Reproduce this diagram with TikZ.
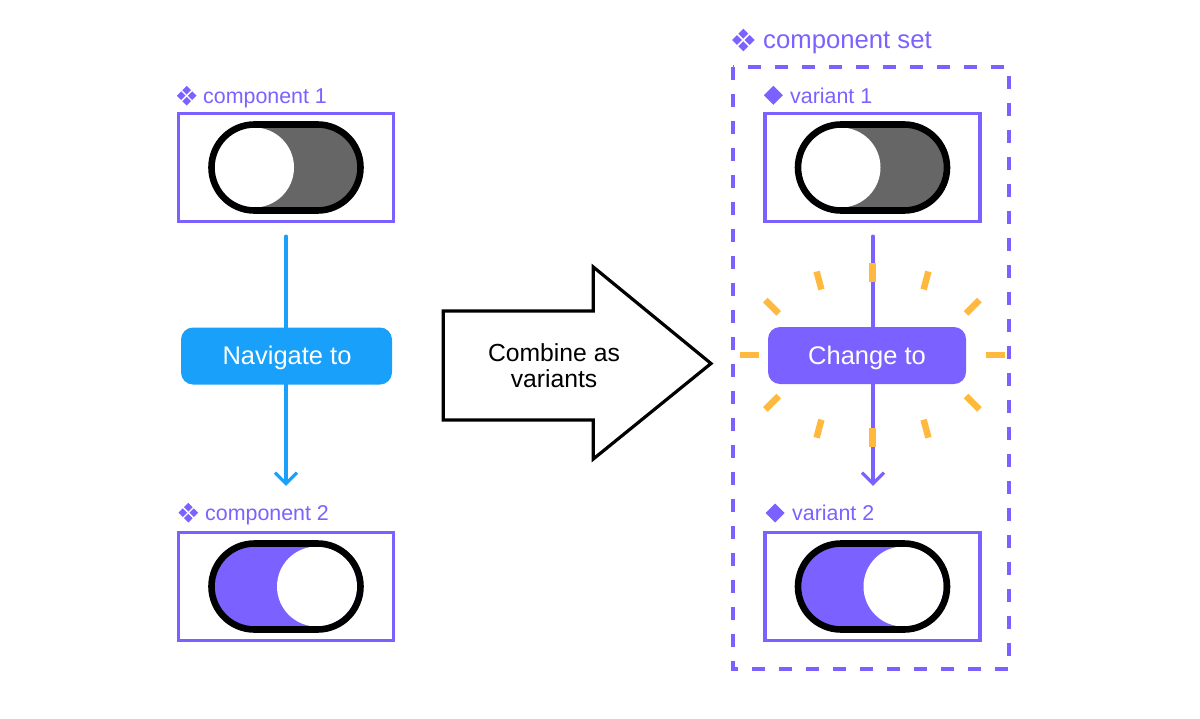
\documentclass[tikz,border=0pt]{standalone}
\usepackage{fontspec}
\setmainfont{Liberation Sans}
\usetikzlibrary{calc}
\usetikzlibrary{arrows.meta}

\definecolor{violet}{HTML}{7B61FF}
\definecolor{skyblue}{HTML}{18A0FB}
\definecolor{amber}{HTML}{FFB93E}
\definecolor{knobgrey}{HTML}{666666}

\tikzset{
    frame/.style={draw=violet, line width=3.2pt, minimum width=215pt, minimum height=108pt, inner sep=0pt},
    caption/.style={text=violet, anchor=base west, inner sep=0pt, font=\fontsize{21.4}{24}\selectfont},
    action/.style={rounded corners=12pt, minimum height=57pt, inner sep=0pt},
    actionlabel/.style={text=white, anchor=base, inner sep=0pt, font=\fontsize{25.5}{28}\selectfont},
    flow/.style={line width=3.2pt, line cap=round, line join=round, -{Straight Barb[length=11pt,width=22pt,line width=3.2pt]}},
    ray/.style={amber, line width=6.5pt},
    toggleoff/.pic={
        \fill[knobgrey] (-31.5,-43) arc (270:90:43) -- (31.5,43) arc (90:-90:43) -- cycle;
        \fill[white] (-32,0) circle (40);
        \draw[black, line width=6.6pt] (-31.5,-43) arc (270:90:43) -- (31.5,43) arc (90:-90:43) -- cycle;
    },
    toggleon/.pic={
        \fill[violet] (-31.5,-43) arc (270:90:43) -- (31.5,43) arc (90:-90:43) -- cycle;
        \fill[white] (31,0) circle (40);
        \draw[black, line width=6.6pt] (-31.5,-43) arc (270:90:43) -- (31.5,43) arc (90:-90:43) -- cycle;
    },
    gem/.pic={
        \fill[violet] (-9.5,0) -- (0,9.5) -- (9.5,0) -- (0,-9.5) -- cycle;
    },
    gems/.pic={
        \foreach \dx/\dy in {-5.5/0, 5.5/0, 0/-5.5, 0/5.5}
            \fill[violet, shift={(\dx,\dy)}] (-4.3,0) -- (0,4.3) -- (4.3,0) -- (0,-4.3) -- cycle;
    },
}

\begin{document}
\begin{tikzpicture}[x=1pt, y=-1pt]
    \useasboundingbox (0,0) rectangle (1200,718);

    % left column
    \node [frame] (comp1) at (286,167.5) {};
    \node [frame] (comp2) at (286,586.5) {};
    \pic at (286,167.5) {toggleoff};
    \pic at (286,586.5) {toggleon};

    \pic at (186.7,95.7) {gems};
    \pic at (188.3,512.7) {gems};
    \node [caption] (comp1label) at (203,103.4) {component 1};
    \node [caption] (comp2label) at (205,520.7) {component 2};

    \draw[flow, skyblue, shorten <=13pt, shorten >=45pt] (comp1.south) -- (comp2.north);
    \node [action, fill=skyblue, minimum width=211pt] (navigate) at (286.5,356) {};
    \node [actionlabel] (navigatelabel) at (287,364.5) {Navigate to};

    % big arrow
    \coordinate (tail) at (443.3,311);
    \coordinate (tip) at (711,363.5);
    \draw[black, line width=3.2pt, miter limit=10] (tail) -- (593.3,311) -- (593.3,267) -- (tip) -- (593.3,459) -- (593.3,420) -- (443.3,420) -- cycle;
    \node [anchor=base, inner sep=0pt, font=\fontsize{24.7}{26}\selectfont] (combine1) at (554,361.3) {Combine as};
    \node [anchor=base, inner sep=0pt, font=\fontsize{24.7}{26}\selectfont] (combine2) at (554,387) {variants};

    % right column
    \node [frame] (var1) at (872.5,167.5) {};
    \node [frame] (var2) at (872.5,586.5) {};
    \pic at (872.5,167.5) {toggleoff};
    \pic at (872.5,586.5) {toggleon};

    \pic [scale=1.15] at (743.3,40) {gems};
    \pic at (773.3,95.3) {gem};
    \pic at (775,513) {gem};
    \node [caption, font=\fontsize{25.7}{28}\selectfont] (setlabel) at (763,48.3) {component set};
    \node [caption] (var1label) at (790,103.2) {variant 1};
    \node [caption] (var2label) at (792,520.4) {variant 2};

    \draw[violet, line width=3.2pt, dash pattern=on 13pt off 14pt] (733,67) rectangle (1009,669);

    \draw[flow, violet, shorten <=13pt, shorten >=45pt] ([xshift=0.5pt]var1.south) -- ([xshift=0.5pt]var2.north);
    \node [action, fill=violet, minimum width=198pt] (change) at (867,355.5) {};
    \node [actionlabel] (changelabel) at (867,364) {Change to};

    % rays round the label
    \coordinate (burst) at (872.7,355);
    \foreach \dx/\dy/\hx/\hy in {0/-82.5/0/9.3, 0/82.5/0/9.3, -123/0/9.3/0, 123/0/9.3/0,
        -100.7/-48.3/6.7/6.7, 100/-48.3/6.7/-6.7, -100.7/47.7/6.7/-6.7, 100/47.7/6.7/6.7,
        -53.7/-74.5/2.4/9, 53.3/-74.5/-2.4/9, -53.7/73.7/-2.4/9, 53.3/73.7/2.4/9}
        \draw[ray] ($(burst)+(\dx,\dy)-(\hx,\hy)$) -- ($(burst)+(\dx,\dy)+(\hx,\hy)$);
\end{tikzpicture}
\end{document}
